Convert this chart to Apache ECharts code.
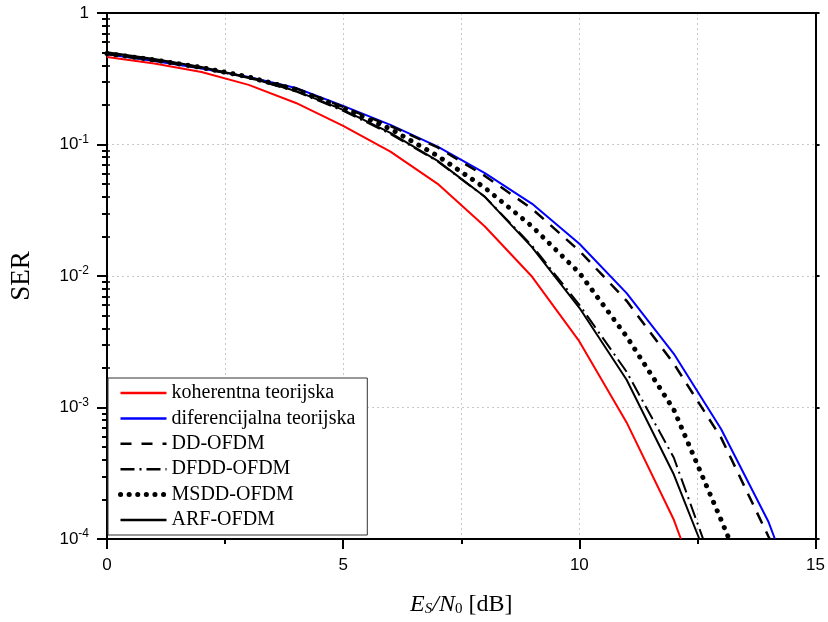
<!DOCTYPE html>
<html>
<head>
<meta charset="utf-8">
<script src="https://cdn.jsdelivr.net/npm/echarts@6/dist/echarts.min.js"></script>
<style>html,body{margin:0;padding:0;background:#fff}#c{width:828px;height:622px}</style>
</head>
<body>
<div id="c"></div>
<script>
// Es/N0 [dB] sample points
const snrDb = [0, 1, 2, 3, 4, 5, 6, 7, 8, 9, 10, 11, 12, 13, 14];
// SER values
const koherentna = [0.463, 0.413, 0.356, 0.284, 0.207, 0.1384, 0.0883, 0.0502, 0.0238, 0.00986, 0.00318, 0.00077, 0.000140];
const diferencijalna = [0.4855, 0.4317, 0.3788, 0.326, 0.269, 0.1965, 0.1409, 0.0964, 0.0605, 0.0354, 0.01757, 0.00741, 0.00256, 0.000686, 0.000136];
const ddOfdm = [0.488, 0.436, 0.382, 0.3235, 0.2668, 0.193, 0.1384, 0.0951, 0.0577, 0.0324, 0.01554, 0.00648, 0.00215, 0.000590, 0.000105];
const dfddOfdm = [0.497, 0.443, 0.385, 0.3207, 0.2532, 0.180, 0.1204, 0.0744, 0.0400, 0.01697, 0.00604, 0.00187, 0.000415];
const msddOfdm = [0.492, 0.440, 0.385, 0.326, 0.262, 0.1897, 0.1314, 0.0819, 0.0468, 0.0238, 0.01057, 0.00347, 0.000962, 0.000140];
const arfOfdm = [0.503, 0.447, 0.389, 0.3236, 0.2555, 0.1832, 0.1225, 0.0751, 0.0400, 0.01652, 0.00573, 0.001626, 0.000309];
// where each curve leaves the plot at SER = 1e-4
const exitDb = [12.15, 14.14, 14.03, 12.62, 13.17, 12.54];
const exitSer = 1e-4;
const names = ['koherentna teorijska', 'diferencijalna teorijska', 'DD-OFDM', 'DFDD-OFDM', 'MSDD-OFDM', 'ARF-OFDM'];
const allValues = [koherentna, diferencijalna, ddOfdm, dfddOfdm, msddOfdm, arfOfdm];
// minor tick positions (log10 of 2..9 x 10^d)
const minorTickExp = [];
for (let d = -4; d < 0; d++) for (let k = 2; k <= 9; k++) minorTickExp.push(d + Math.log10(k));

const styles = [
  {color: '#ff0000', width: 2, type: 'solid'},
  {color: '#0000ff', width: 2, type: 'solid'},
  {color: '#000000', width: 2.5, type: [12, 9]},
  {color: '#000000', width: 2, type: [15, 5, 2, 5]},
  {color: '#000000', width: 5, type: [0.1, 9], cap: 'round'},
  {color: '#000000', width: 2, type: 'solid'}
];
const legendStyles = [
  {color: '#ff0000', width: 2.5, type: 'solid'},
  {color: '#0000ff', width: 2.5, type: 'solid'},
  {color: '#000000', width: 2.5, type: [11, 10]},
  {color: '#000000', width: 2.5, type: [14, 5, 2, 5]},
  {color: '#000000', width: 5, type: [0.1, 8.5], cap: 'round'},
  {color: '#000000', width: 2.5, type: 'solid'}
];

const series = names.map((n, i) => ({
  name: n,
  type: 'line',
  xAxisIndex: 0,
  yAxisIndex: 0,
  symbol: 'none',
  showSymbol: false,
  lineStyle: styles[i],
  itemStyle: {color: styles[i].color},
  data: allValues[i].map((v, j) => [snrDb[j], v]).concat([[exitDb[i], exitSer]]),
  z: 2 + i
}));

const serif = 'Liberation Serif';
const sans = 'Liberation Sans';
const gridLine = {show: true, lineStyle: {color: '#c8c8c8', type: [2, 3], width: 1}};

const chart = echarts.init(document.getElementById('c'), null, {renderer: 'canvas'});
chart.setOption({
  animation: false,
  backgroundColor: '#fff',
  grid: {left: 105, top: 13, right: 11, bottom: 82, containLabel: false},
  legend: {
    orient: 'vertical',
    left: 108, top: 378,
    itemWidth: 46, itemHeight: 14, itemGap: 5.4,
    padding: [5, 12, 5, 10],
    borderColor: '#333', borderWidth: 1, backgroundColor: '#fff',
    itemStyle: {color: 'rgba(0,0,0,0)', borderColor: 'rgba(0,0,0,0)', borderWidth: 0, opacity: 0},
    textStyle: {fontFamily: serif, fontSize: 20, color: '#000', lineHeight: 20},
    data: names.map((n, i) => ({name: n, lineStyle: legendStyles[i]}))
  },
  xAxis: [{
    type: 'value', position: 'bottom', min: 0, max: 15, interval: 5,
    axisLine: {show: true, onZero: false, lineStyle: {color: '#000', width: 2}},
    axisTick: {show: true, inside: false, length: 10, lineStyle: {color: '#000', width: 2}},
    minorTick: {show: true, splitNumber: 2, length: 5, lineStyle: {color: '#000', width: 2}},
    splitLine: gridLine,
    minorSplitLine: gridLine,
    axisLabel: {fontFamily: sans, fontSize: 17, color: '#000', margin: 18},
    name: '{i|E}{is|S}{i|/N}{s|0}{r| [dB]}',
    nameLocation: 'middle', nameGap: 53,
    nameTextStyle: {
      color: '#000',
      rich: {
        i: {fontFamily: serif, fontStyle: 'italic', fontSize: 24, color: '#000'},
        is: {fontFamily: serif, fontStyle: 'italic', fontSize: 15, color: '#000', padding: [10, 0, 0, 0]},
        s: {fontFamily: serif, fontSize: 15, color: '#000', padding: [10, 0, 0, 0]},
        r: {fontFamily: serif, fontSize: 24, color: '#000'}
      }
    }
  }, {
    type: 'value', position: 'top', min: 0, max: 15, interval: 5,
    axisLine: {show: true, onZero: false, lineStyle: {color: '#000', width: 2}},
    axisTick: {show: false}, axisLabel: {show: false}, splitLine: {show: false}
  }],
  yAxis: [{
    type: 'log', logBase: 10, min: 1e-4, max: 1, position: 'left',
    axisLine: {show: true, onZero: false, lineStyle: {color: '#000', width: 2}},
    axisTick: {show: true, inside: false, length: 10, lineStyle: {color: '#000', width: 2}},
    splitLine: gridLine,
    axisLabel: {
      margin: 18,
      formatter: function (v) {
        const e = Math.round(Math.log10(v));
        return e === 0 ? '{b|1}' : '{b|10}{s|' + e + '}';
      },
      rich: {
        b: {fontFamily: sans, fontSize: 17, color: '#000'},
        s: {fontFamily: sans, fontSize: 12, color: '#000', padding: [0, 0, 10, 0]}
      }
    },
    name: 'SER', nameLocation: 'middle', nameRotate: 90, nameGap: 72,
    nameTextStyle: {fontFamily: serif, fontSize: 27, color: '#000'}
  }, {
    type: 'log', logBase: 10, min: 1e-4, max: 1, position: 'right',
    axisLine: {show: true, onZero: false, lineStyle: {color: '#000', width: 2}},
    axisTick: {show: true, inside: false, length: 4, lineStyle: {color: '#000', width: 2}},
    axisLabel: {show: false}, splitLine: {show: false}
  }, {
    type: 'value', min: -4, max: 0, position: 'left',
    axisLine: {show: false},
    axisTick: {show: true, inside: false, length: 5, customValues: minorTickExp, lineStyle: {color: '#000', width: 2}},
    axisLabel: {show: false}, splitLine: {show: false}
  }, {
    type: 'value', min: -4, max: 0, position: 'right',
    axisLine: {show: false},
    axisTick: {show: true, inside: false, length: 3, customValues: minorTickExp, lineStyle: {color: '#000', width: 1.5}},
    axisLabel: {show: false}, splitLine: {show: false}
  }],
  series: series
});
</script>
</body>
</html>
